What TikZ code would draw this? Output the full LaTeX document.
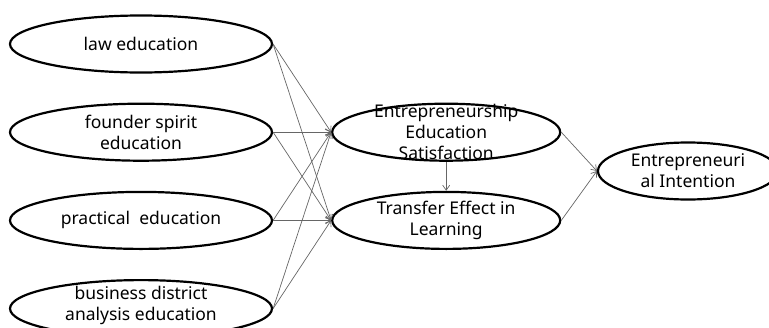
\documentclass[tikz,border=0pt]{standalone}
\usepackage{fontspec}
\setmainfont{Noto Sans}
\usetikzlibrary{positioning,arrows.meta,shapes.geometric}

\begin{document}
\begin{tikzpicture}[x=1pt,y=-1pt,>={Straight Barb[length=5pt,width=7pt]},
  node distance=29pt and 58pt,
  var/.style={ellipse,draw,line width=2.2pt,minimum width=262pt,minimum height=57pt,
    inner sep=0pt,align=center,font=\fontsize{17.5}{21}\selectfont},
  inside/.style={align=center,font=\fontsize{17.5}{21}\selectfont},
  link/.style={->,draw=black!60,line width=0.7pt}]
\useasboundingbox (0,0) rectangle (769,327);
\clip (0,0) rectangle (769,327);
% education programmes
\node[var] (law) at (141,44) {law education};
\node[var,below=of law] (founder) {founder spirit\\education};
\node[var,below=of founder] (practical) {practical~ education};
\node[var,below=of practical,
  label={[inside,yshift=3pt]center:business district\\analysis education}] (business) {};
% mediators and outcome
\node[var,minimum width=228pt,right=of founder,
  label={[inside]center:Entrepreneurship\\Education\\Satisfaction}] (esat) {};
\node[var,minimum width=228pt,below=of esat] (transfer) {Transfer Effect in\\Learning};
\node[var,minimum width=180pt] (intent) at (688,171) {Entrepreneuri\\al Intention};
\foreach \src in {law,founder,practical,business}{
  \draw[link] (\src.east) -- (esat.west);
  \draw[link] (\src.east) -- (transfer.west);
}
\draw[link] (esat) -- (transfer);
\draw[link] (esat.east) -- (intent.west);
\draw[link] (transfer.east) -- (intent.west);
\end{tikzpicture}
\end{document}
